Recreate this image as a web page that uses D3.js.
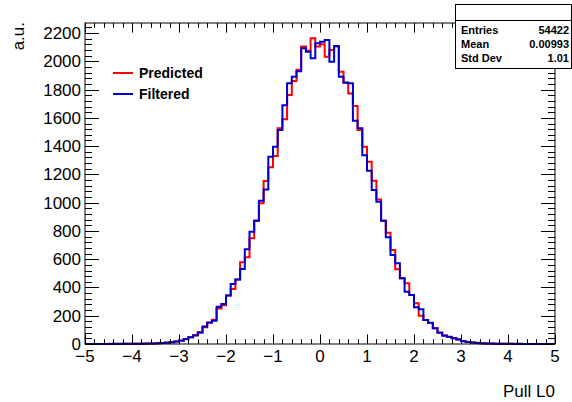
<!DOCTYPE html>
<html>
<head>
<meta charset="utf-8">
<script src="https://cdn.jsdelivr.net/npm/d3@7"></script>
<style>
  body { margin: 0; background: #fff; }
  svg { display: block; font-family: "Liberation Sans", Arial, sans-serif; }
</style>
</head>
<body>
<svg id="chart" width="572" height="402"></svg>
<script>
// histogram binning: 100 bins from -5 to 5
const xMin = -5;
const xMax = 5;
const nBins = 100;

// bin contents
const predicted = [
    0, 0, 0, 0, 0, 1, 0, 1, 1, 1,
    2, 2, 3, 3, 4, 6, 7, 10, 12, 18,
    24, 33, 48, 63, 85, 118, 150, 172, 252, 275,
    344, 389, 457, 578, 613, 748, 872, 995, 1153, 1250,
    1330, 1526, 1590, 1761, 1860, 1940, 2105, 2075, 2163, 2105,
    2120, 2033, 2080, 2105, 1926, 1850, 1773, 1684, 1514, 1396,
    1290, 1155, 1023, 872, 787, 665, 528, 465, 429, 347,
    288, 200, 170, 148, 111, 82, 62, 50, 42, 30,
    21, 15, 11, 8, 6, 4, 3, 2, 1, 1,
    1, 1, 0, 0, 0, 0, 0, 0, 0, 0
];
const filtered = [
    0, 0, 0, 0, 0, 0, 1, 0, 1, 1,
    1, 2, 2, 3, 4, 5, 7, 9, 13, 17,
    23, 35, 47, 61, 80, 123, 153, 165, 264, 283,
    344, 424, 457, 530, 670, 795, 872, 1014, 1094, 1325,
    1396, 1514, 1690, 1844, 1890, 1930, 2092, 2068, 2021, 2127,
    2139, 2150, 1997, 2108, 1891, 1849, 1845, 1580, 1526, 1335,
    1225, 1089, 1007, 872, 755, 630, 571, 465, 370, 347,
    260, 245, 170, 151, 111, 80, 59, 52, 40, 33,
    19, 14, 10, 7, 5, 4, 3, 2, 2, 1,
    1, 0, 1, 0, 0, 0, 0, 0, 0, 0
];

const seriesNames = ['Predicted', 'Filtered'];
const seriesColors = ['#ff0000', '#0000cc'];
const statLabels = ['Entries', 'Mean', 'Std Dev'];
const statValues = ['54422', '0.00993', '1.01'];
const xTicks = [-5, -4, -3, -2, -1, 0, 1, 2, 3, 4, 5];
const yTicks = [0, 200, 400, 600, 800, 1000, 1200, 1400, 1600, 1800, 2000, 2200];

const svg = d3.select('#chart');
const frame = { left: 85, right: 555, top: 23, bottom: 344 };

const x = d3.scaleLinear().domain([xMin, xMax]).range([frame.left, frame.right]);
const yMax = 1.05 * d3.max(predicted.concat(filtered));
const y = d3.scaleLinear().domain([0, yMax]).range([frame.bottom, frame.top]);

const binWidth = (xMax - xMin) / nBins;

// step outline of a histogram
function stepPoints(values) {
    const pts = [[xMin, 0]];
    values.forEach((v, i) => {
        pts.push([xMin + i * binWidth, v]);
        pts.push([xMin + (i + 1) * binWidth, v]);
    });
    pts.push([xMax, 0]);
    return pts;
}

const line = d3.line().x(d => x(d[0])).y(d => y(d[1]));

[predicted, filtered].forEach((vals, k) => {
    svg.append('path')
        .attr('d', line(stepPoints(vals)))
        .attr('fill', 'none')
        .attr('stroke', seriesColors[k])
        .attr('stroke-width', 2);
});

// frame
svg.append('rect')
    .attr('x', frame.left).attr('y', frame.top)
    .attr('width', frame.right - frame.left)
    .attr('height', frame.bottom - frame.top)
    .attr('fill', 'none').attr('stroke', '#000').attr('stroke-width', 1);

// ticks pointing inward, ROOT style
const xMajorLen = 9.6, yMajorLen = 14;
const xMinor = d3.range(xMin, xMax + 1e-9, 0.2);
const yMinor = d3.range(0, yMax, 40);

const tickG = svg.append('g').attr('stroke', '#000').attr('stroke-width', 1);
xMinor.forEach(v => {
    const major = Math.abs(v - Math.round(v)) < 1e-6;
    const len = major ? xMajorLen : xMajorLen / 2;
    const px = Math.round(x(v)) + 0.5;
    tickG.append('line').attr('x1', px).attr('x2', px).attr('y1', frame.bottom).attr('y2', frame.bottom - len);
    tickG.append('line').attr('x1', px).attr('x2', px).attr('y1', frame.top).attr('y2', frame.top + len);
});
yMinor.forEach(v => {
    const major = v % 200 === 0;
    const len = major ? yMajorLen : yMajorLen / 2;
    const py = Math.round(y(v)) + 0.5;
    tickG.append('line').attr('x1', frame.left).attr('x2', frame.left + len).attr('y1', py).attr('y2', py);
    tickG.append('line').attr('x1', frame.right).attr('x2', frame.right - len).attr('y1', py).attr('y2', py);
});

// tick labels
svg.append('g').selectAll('text')
    .data(xTicks)
    .enter().append('text')
    .attr('x', d => x(d))
    .attr('y', 362)
    .attr('text-anchor', 'middle')
    .attr('font-size', 17)
    .text(d => d < 0 ? '\u2212' + Math.abs(d) : d);

svg.append('g').selectAll('text')
    .data(yTicks)
    .enter().append('text')
    .attr('x', 81)
    .attr('y', d => y(d) + 6)
    .attr('text-anchor', 'end')
    .attr('font-size', 17)
    .text(d => d);

// axis titles
svg.append('text')
    .attr('x', 555).attr('y', 397)
    .attr('text-anchor', 'end')
    .attr('font-size', 17)
    .text('Pull L0');

svg.append('text')
    .attr('transform', 'translate(24,22) rotate(-90)')
    .attr('text-anchor', 'end')
    .attr('font-size', 17)
    .text('a.u.');

// legend
const legend = svg.append('g');
seriesNames.forEach((name, i) => {
    const ly = 73 + i * 21;
    legend.append('line')
        .attr('x1', 113).attr('x2', 133).attr('y1', ly).attr('y2', ly)
        .attr('stroke', seriesColors[i]).attr('stroke-width', 2);
    legend.append('text')
        .attr('x', 139).attr('y', ly + 5)
        .attr('font-size', 14).attr('font-weight', 'bold')
        .text(name);
});

// stats box
const stats = svg.append('g');
stats.append('rect')
    .attr('x', 455.5).attr('y', 4.5).attr('width', 116).attr('height', 64)
    .attr('fill', '#fff').attr('stroke', '#000');
stats.append('line')
    .attr('x1', 455.5).attr('x2', 572).attr('y1', 20.5).attr('y2', 20.5)
    .attr('stroke', '#000');
statLabels.forEach((lab, i) => {
    const sy = 34 + i * 14;
    stats.append('text')
        .attr('x', 461).attr('y', sy)
        .attr('font-size', 11).attr('font-weight', 'bold')
        .text(lab);
    stats.append('text')
        .attr('x', 569).attr('y', sy)
        .attr('text-anchor', 'end')
        .attr('font-size', 11).attr('font-weight', 'bold')
        .text(statValues[i]);
});
</script>
</body>
</html>
